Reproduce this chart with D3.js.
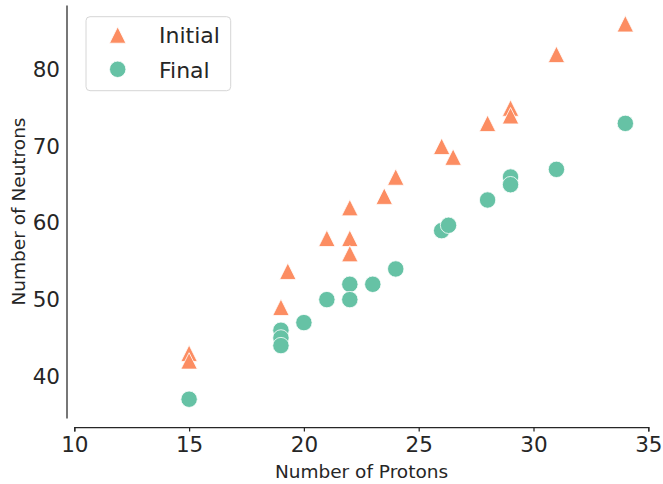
<!DOCTYPE html>
<html>
<head>
<meta charset="utf-8">
<script src="https://cdnjs.cloudflare.com/ajax/libs/d3/7.8.5/d3.min.js"></script>
<style>
  html, body { margin: 0; padding: 0; background: #fff; }
  svg { display: block; font-family: "DejaVu Sans", sans-serif; }
</style>
</head>
<body>
<svg id="chart" width="663" height="484"></svg>
<script>
// Proton / neutron counts before and after
const initialProtons  = [15, 15, 19, 19.3, 21, 22, 22, 22, 23.5, 24, 26, 26.5, 28, 29, 29, 31, 34];
const initialNeutrons = [43, 42, 49, 53.7, 58, 62, 58, 56, 63.5, 66, 70, 68.6, 73, 75, 74, 82, 86];
const finalProtons    = [15, 19, 19, 19, 20, 21, 22, 22, 23, 24, 26, 26.3, 28, 29, 29, 31, 34];
const finalNeutrons   = [37, 46, 45, 44, 47, 50, 52, 50, 52, 54, 59, 59.7, 63, 66, 65, 67, 73];
const xTicks = [10, 15, 20, 25, 30, 35];
const yTicks = [40, 50, 60, 70, 80];
const seriesNames = ["Initial", "Final"];
const seriesColors = ["#fc8d62", "#66c2a5"];

const svg = d3.select("#chart");
const ink = "#262626";

const x = d3.scaleLinear().domain([10, 35]).range([74.3, 648.3]);
const y = d3.scaleLinear().domain([34.55, 88.45]).range([418, 5]);

// x axis (offset below the plot)
const xAxis = svg.append("g")
  .attr("transform", "translate(0,427)")
  .call(d3.axisBottom(x).tickValues(xTicks).tickFormat(d3.format("d")).tickSize(4.5).tickPadding(5));
xAxis.select(".domain").attr("stroke", ink).attr("stroke-width", 1.25);
xAxis.selectAll(".tick line").attr("stroke", ink).attr("stroke-width", 1.25);
xAxis.selectAll(".tick text").attr("fill", ink).attr("font-size", 21.5)
  .attr("font-family", "DejaVu Sans");

// y axis (offset left, no tick marks)
const yAxis = svg.append("g")
  .attr("transform", "translate(66.5,0)")
  .call(d3.axisLeft(y).tickValues(yTicks).tickFormat(d3.format("d")).tickSize(0).tickPadding(6.5).tickSizeOuter(0));
yAxis.select(".domain").attr("stroke", ink).attr("stroke-width", 1.25);
yAxis.selectAll(".tick text").attr("fill", ink).attr("font-size", 21.5)
  .attr("font-family", "DejaVu Sans");

// axis titles
svg.append("text")
  .attr("x", 361.5).attr("y", 478)
  .attr("text-anchor", "middle")
  .attr("font-size", 18.5).attr("fill", ink)
  .text("Number of Protons");
svg.append("text")
  .attr("transform", "translate(25,211.5) rotate(-90)")
  .attr("text-anchor", "middle")
  .attr("font-size", 18.5).attr("fill", ink)
  .text("Number of Neutrons");

const tri = s => `M0,${-s}L${-s},${s}L${s},${s}Z`;

// Initial: triangles
svg.append("g").selectAll("path")
  .data(initialProtons.map((p, i) => [p, initialNeutrons[i]]))
  .join("path")
  .attr("d", tri(8.2))
  .attr("transform", d => `translate(${x(d[0])},${y(d[1])})`)
  .attr("fill", seriesColors[0])
  .attr("stroke", "#fff").attr("stroke-width", 0.8);

// Final: circles
svg.append("g").selectAll("circle")
  .data(finalProtons.map((p, i) => [p, finalNeutrons[i]]))
  .join("circle")
  .attr("cx", d => x(d[0])).attr("cy", d => y(d[1]))
  .attr("r", 8.2)
  .attr("fill", seriesColors[1])
  .attr("stroke", "#fff").attr("stroke-width", 0.8);

// legend
const legend = svg.append("g");
legend.append("rect")
  .attr("x", 86).attr("y", 16.7).attr("width", 144.7).attr("height", 74)
  .attr("rx", 4).attr("ry", 4)
  .attr("fill", "#fff").attr("fill-opacity", 0.8)
  .attr("stroke", "#d6d6d6").attr("stroke-width", 1);
legend.append("path")
  .attr("d", tri(8.2))
  .attr("transform", "translate(117.7,35)")
  .attr("fill", seriesColors[0]).attr("stroke", "#fff").attr("stroke-width", 0.8);
legend.append("circle")
  .attr("cx", 117.7).attr("cy", 69.3).attr("r", 8.2)
  .attr("fill", seriesColors[1]).attr("stroke", "#fff").attr("stroke-width", 0.8);
legend.selectAll("text.lbl")
  .data(seriesNames)
  .join("text")
  .attr("class", "lbl")
  .attr("x", 159).attr("y", (d, i) => 43.3 + i * 34.4)
  .attr("font-size", 22).attr("fill", ink)
  .text(d => d);
</script>
</body>
</html>
